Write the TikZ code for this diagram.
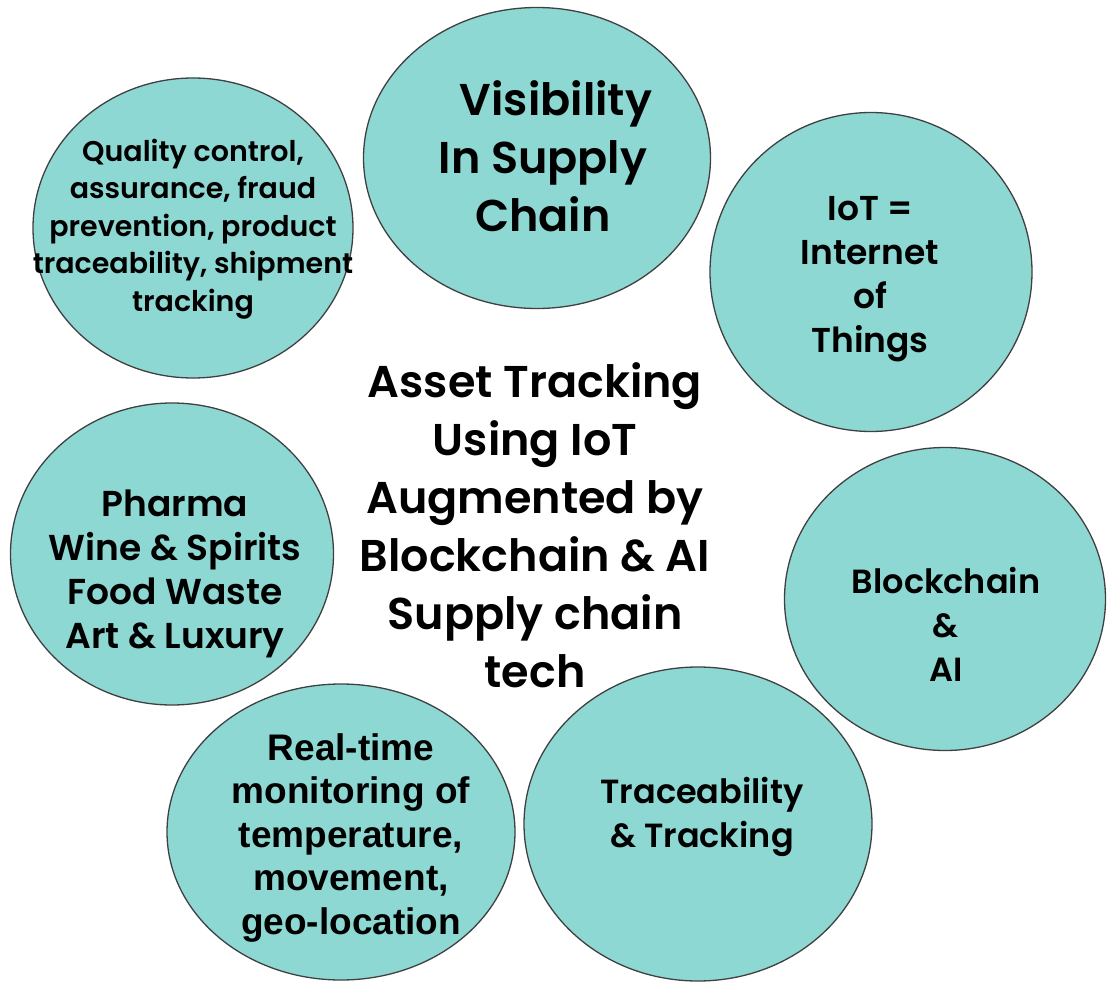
\documentclass[tikz,border=0pt]{standalone}
\usepackage{fontspec}
\setmainfont{Poppins}[BoldFont={Poppins SemiBold}]
\newfontfamily\arialfont{Liberation Sans}
\usetikzlibrary{shapes.geometric}

\definecolor{bubblefill}{HTML}{8DD8D3}
\definecolor{bubbleline}{HTML}{404040}

\tikzset{
  bubble/.style={ellipse, draw=bubbleline, fill=bubblefill, line width=1.3pt, inner sep=0pt},
  bigtext/.style={align=center, inner sep=0pt, font=\fontsize{44.5}{58}\selectfont\bfseries},
  midtext/.style={align=center, inner sep=0pt, font=\fontsize{#1}{44}\selectfont\bfseries},
  midtext/.default=33.5,
  smalltext/.style={align=center, inner sep=0pt, font=\fontsize{28.5}{37.5}\selectfont\bfseries},
  arialtext/.style={align=center, inner sep=0pt, font=\arialfont\fontsize{37}{43.5}\selectfont\bfseries},
}

\begin{document}
\begin{tikzpicture}[x=1pt,y=-1pt]
\useasboundingbox (0,0) rectangle (1111,984);

% bubbles
\node[bubble, minimum width=320, minimum height=300] (quality) at (193,228) {};
\node[bubble, minimum width=347, minimum height=301] (visib)   at (537,158) {};
\node[bubble, minimum width=322, minimum height=319] (iot)     at (871,272) {};
\node[bubble, minimum width=321, minimum height=303] (bchain)  at (945,599) {};
\node[bubble, minimum width=323, minimum height=302] (pharma)  at (172,554) {};
\node[bubble, minimum width=348, minimum height=314] (trace)   at (698,824) {};
\node[bubble, minimum width=348, minimum height=296] (realtime) at (341,832) {};

% texts
\node[smalltext] (qualitytxt) at (193,229) {Quality control,\\assurance, fraud\\prevention, product\\traceability, shipment\\tracking};
\node[bigtext] (visibtxt) at (543,156) {\hspace*{26pt}Visibility\\In Supply\\Chain};
\node[midtext=34.5] (iottxt) at (870,279) {IoT =\\Internet\\of\\Things};
\node[midtext] (bchaintxt) at (946,624) {Blockchain\\\&\\AI};
\node[midtext=36] (pharmatxt) at (175,574) {Pharma\\Wine \& Spirits\\Food Waste\\Art \& Luxury};
\node[midtext] (tracetxt) at (702,817) {Traceability\\\& Tracking};
\node[arialtext] (realtimetxt) at (351,838) {Real-time\\monitoring of\\temperature,\\movement,\\geo-location};

\node[bigtext] (centertxt) at (535,525) {Asset Tracking\\Using IoT\\Augmented by\\Blockchain \& AI\\Supply chain\\tech};

\end{tikzpicture}
\end{document}
